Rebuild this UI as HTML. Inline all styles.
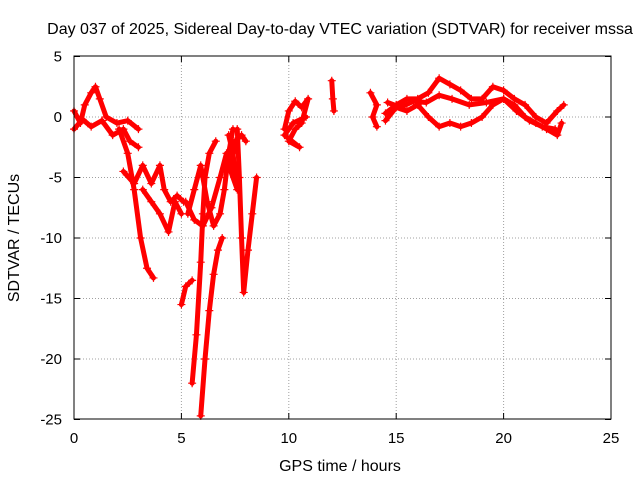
<!DOCTYPE html>
<html><head><meta charset="utf-8"><style>
body{margin:0;background:#fff}
svg{display:block;font-family:"Liberation Sans",sans-serif}
</style></head><body>
<svg id="chart" width="640" height="480">
<text x="340" y="34" text-anchor="middle" font-size="16">Day 037 of 2025, Sidereal Day-to-day VTEC variation (SDTVAR) for receiver mssa</text>
<text x="340" y="471" text-anchor="middle" font-size="16">GPS time / hours</text>
<text transform="translate(19,238) rotate(-90)" text-anchor="middle" font-size="16">SDTVAR / TECUs</text>
<g id="grid"></g><g id="ticks"></g><g id="marks"></g>
<rect x="74" y="56" width="537" height="363" fill="none" stroke="#000" stroke-width="1"/>
</svg>
<script>
const xTicks=[0,5,10,15,20,25];
const yTicks=[5,0,-5,-10,-15,-20,-25];
const trackA=[[0,0.5],[0.3,-0.5],[0.5,1],[0.8,2],[1,2.5],[1.2,1.5],[1.5,0],[2,-0.5],[2.5,-0.3],[3,-1]];
const trackA2=[[0,-1],[0.4,-0.2],[0.8,-0.8],[1.3,-0.3],[1.8,-1.5],[2.3,-1],[2.6,-2],[3,-2.5]];
const trackB=[[2.1,-1],[2.5,-3],[2.8,-6],[3.1,-10],[3.4,-12.5],[3.7,-13.3]];
const trackC=[[2.3,-4.5],[2.8,-5.5],[3.2,-4],[3.6,-5.5],[4,-4],[4.2,-6],[4.5,-7],[4.8,-6.5],[5.1,-7]];
const trackC2=[[3.2,-6],[3.6,-7],[4,-8],[4.4,-9.5],[4.7,-7],[5,-8]];
const trackD0=[[5,-15.5],[5.2,-14],[5.5,-13.5]];
const trackD=[[5.5,-22],[5.7,-18],[5.9,-12],[6,-8],[6.1,-5],[6.3,-3],[6.6,-2]];
const trackE=[[5.9,-24.7],[6.1,-20],[6.3,-16],[6.5,-13],[6.7,-11],[6.9,-10]];
const trackF=[[5.3,-8],[5.6,-6],[5.9,-4],[6.2,-7],[6.5,-9],[6.8,-8],[7,-6],[7.2,-3],[7.4,-1]];
const trackF2=[[5.2,-7],[5.6,-8.5],[6,-9],[6.4,-7.5],[6.8,-5],[7.1,-3]];
const trackG=[[7.6,-1],[7.7,-5],[7.8,-10],[7.9,-14.5],[8.1,-11],[8.3,-8],[8.5,-5]];
const trackG2=[[7.2,-1.5],[7.4,-3],[7.6,-6],[7.3,-4.5],[7.5,-2],[7.8,-1.5],[8,-2]];
const trackH=[[9.8,-1],[10,0.5],[10.3,1.3],[10.6,0.8],[10.9,1.5],[10.6,-0.5],[10.3,-1],[10,-2],[10.5,-2.5],[9.8,-1.5],[10.2,-0.5],[10.8,0]];
const trackI=[[12,3],[12.05,1.5],[12.1,0.5]];
const trackJ=[[13.8,2],[14.1,1],[13.9,0],[14.1,-0.8]];
const trackK=[[14.5,0.3],[15,1],[15.5,1.5],[16,1.5],[16.5,2],[17,3.2],[17.5,2.7],[18,2.2],[18.5,1.5],[19,1.5],[19.5,2.5],[20,2.2],[20.5,1.5],[21,1],[21.5,0],[22,-0.5],[22.5,0.5],[22.8,1]];
const trackL=[[14.5,-0.3],[15,0.8],[15.5,0.5],[16,1],[16.5,0],[17,-0.8],[17.5,-0.5],[18,-0.8],[18.5,-0.5],[19,0],[19.5,1],[20,1.5],[20.5,1],[21,0],[21.5,-0.5],[22,-1],[22.5,-1.5],[22.7,-0.5]];
const trackM=[[14.6,1.2],[15.2,0.8],[15.8,1.3],[16.4,1.2],[17,1.8],[17.6,1.5],[18.4,1],[19.2,1.2],[20,1.5],[20.6,0.5],[21.2,-0.3],[21.8,-0.8],[22.4,-1]];
const tracks=[trackA,trackA2,trackB,trackC,trackC2,trackD0,trackD,trackE,trackF,trackF2,trackG,trackG2,trackH,trackI,trackJ,trackK,trackL,trackM];
const xs=t=>74+t*(537/25);
const ys=v=>117-v*(363/30);
const NS="http://www.w3.org/2000/svg";
const grid=document.getElementById('grid'),ticks=document.getElementById('ticks'),marks=document.getElementById('marks');
function mk(tag,attrs,parent){const e=document.createElementNS(NS,tag);for(const k in attrs)e.setAttribute(k,attrs[k]);parent.appendChild(e);return e;}
xTicks.forEach(t=>{
  if(t>0&&t<25){const g=mk('line',{x1:xs(t),x2:xs(t),y1:56,y2:419,stroke:'#a0a0a0','stroke-dasharray':'1,2'},grid);
  
  }
  mk('line',{x1:xs(t),x2:xs(t),y1:419,y2:413,stroke:'#000'},ticks);
  mk('line',{x1:xs(t),x2:xs(t),y1:56,y2:62,stroke:'#000'},ticks);
  const l=mk('text',{x:xs(t),y:443,'text-anchor':'middle','font-size':'15'},ticks);l.textContent=t;
  
  
});
yTicks.forEach(v=>{
  if(v<5&&v>-25){const g=mk('line',{x1:74,x2:611,y1:ys(v),y2:ys(v),stroke:'#a0a0a0','stroke-dasharray':'1,2'},grid);
  
  }
  mk('line',{x1:74,x2:80,y1:ys(v),y2:ys(v),stroke:'#000'},ticks);
  mk('line',{x1:611,x2:605,y1:ys(v),y2:ys(v),stroke:'#000'},ticks);
  const l=mk('text',{x:62,y:ys(v)+5,'text-anchor':'end','font-size':'15'},ticks);l.textContent=v;
  
  
});
tracks.forEach(tr=>{
  const p=mk('polyline',{points:tr.map(d=>xs(d[0])+','+ys(d[1])).join(' '),fill:'none',stroke:'#f00','stroke-width':5,'stroke-linejoin':'round','stroke-linecap':'round'},marks);
  
  
  tr.forEach(d=>{
    const m=mk('path',{d:`M${xs(d[0])-4},${ys(d[1])}h8M${xs(d[0])},${ys(d[1])-4}v8`,stroke:'#f00','stroke-width':1.2},marks);
    
    
  });
});
</script>
</body></html>
